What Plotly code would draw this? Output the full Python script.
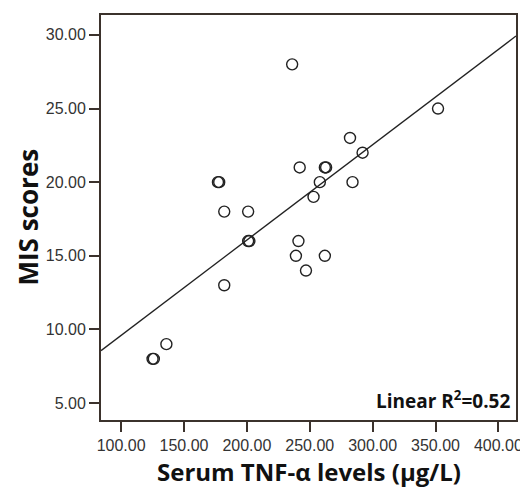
import numpy as np
import plotly.graph_objects as go

# Data
tnf_levels = [236, 352, 282, 292, 242, 262, 263, 258, 284, 177, 178, 253, 182, 201,
              201, 202, 241, 239, 262, 247, 182, 136, 125, 126]
mis_scores = [28, 25, 23, 22, 21, 21, 21, 20, 20, 20, 20, 19, 18, 18,
              16, 16, 16, 15, 15, 14, 13, 9, 8, 8]
x_ticks = [100, 150, 200, 250, 300, 350, 400]
y_ticks = [5, 10, 15, 20, 25, 30]
x_range = [84, 414]
y_range = [3.85, 31.35]

slope, intercept = np.polyfit(tnf_levels, mis_scores, 1)
fit_x = np.array(x_range, dtype=float)
fit_y = slope * fit_x + intercept

axis_color = "#3b322c"

fig = go.Figure()
fig.add_trace(go.Scatter(x=fit_x, y=fit_y, mode="lines",
                         line=dict(color="#222222", width=1.3),
                         showlegend=False, hoverinfo="skip"))
fig.add_trace(go.Scatter(x=tnf_levels, y=mis_scores, mode="markers",
                         marker=dict(symbol="circle-open", size=11,
                                     color="#222222", line=dict(width=1.4)),
                         showlegend=False))

tick_font = dict(family="Liberation Sans, Arial", size=16, color="#333333")
title_font = dict(family="Open Sans", size=26, color="#111111")

fig.update_xaxes(range=x_range, tickvals=x_ticks,
                 ticktext=[f"{v:.2f}" for v in x_ticks],
                 showgrid=False, zeroline=False, showline=True, mirror=True,
                 linecolor=axis_color, linewidth=2,
                 ticks="outside", ticklen=10, tickwidth=2, tickcolor=axis_color,
                 tickfont=tick_font)
fig.update_yaxes(range=y_range, tickvals=y_ticks,
                 ticktext=[f"{v:.2f}" for v in y_ticks],
                 showgrid=False, zeroline=False, showline=True, mirror=True,
                 linecolor=axis_color, linewidth=2,
                 ticks="outside", ticklen=10, tickwidth=2, tickcolor=axis_color,
                 tickfont=tick_font)

fig.add_annotation(text="<b>Serum TNF-α levels (μg/L)</b>", xref="paper", yref="paper",
                   x=0.5, y=0, yshift=-51, xanchor="center", yanchor="middle",
                   showarrow=False, font=dict(family="Open Sans", size=24, color="#111111"),
                   borderpad=0)
fig.add_annotation(text="<b>MIS scores</b>", xref="paper", yref="paper",
                   x=0, y=0.5, xshift=-74, xanchor="center", yanchor="middle",
                   textangle=-90, showarrow=False, font=title_font, borderpad=0)
fig.add_annotation(text="<b>Linear R<sup>2</sup>=0.52</b>", xref="paper", yref="paper",
                   x=0.99, y=0.01, xanchor="right", yanchor="bottom", showarrow=False,
                   font=dict(family="Open Sans", size=19, color="#111111"))

# page body has an 8px margin, so the figure is sized to fit the window
fig.update_layout(width=520, height=479, margin=dict(l=93, r=10, t=5, b=67),
                  plot_bgcolor="white", paper_bgcolor="white")

fig.write_html("out.html")
